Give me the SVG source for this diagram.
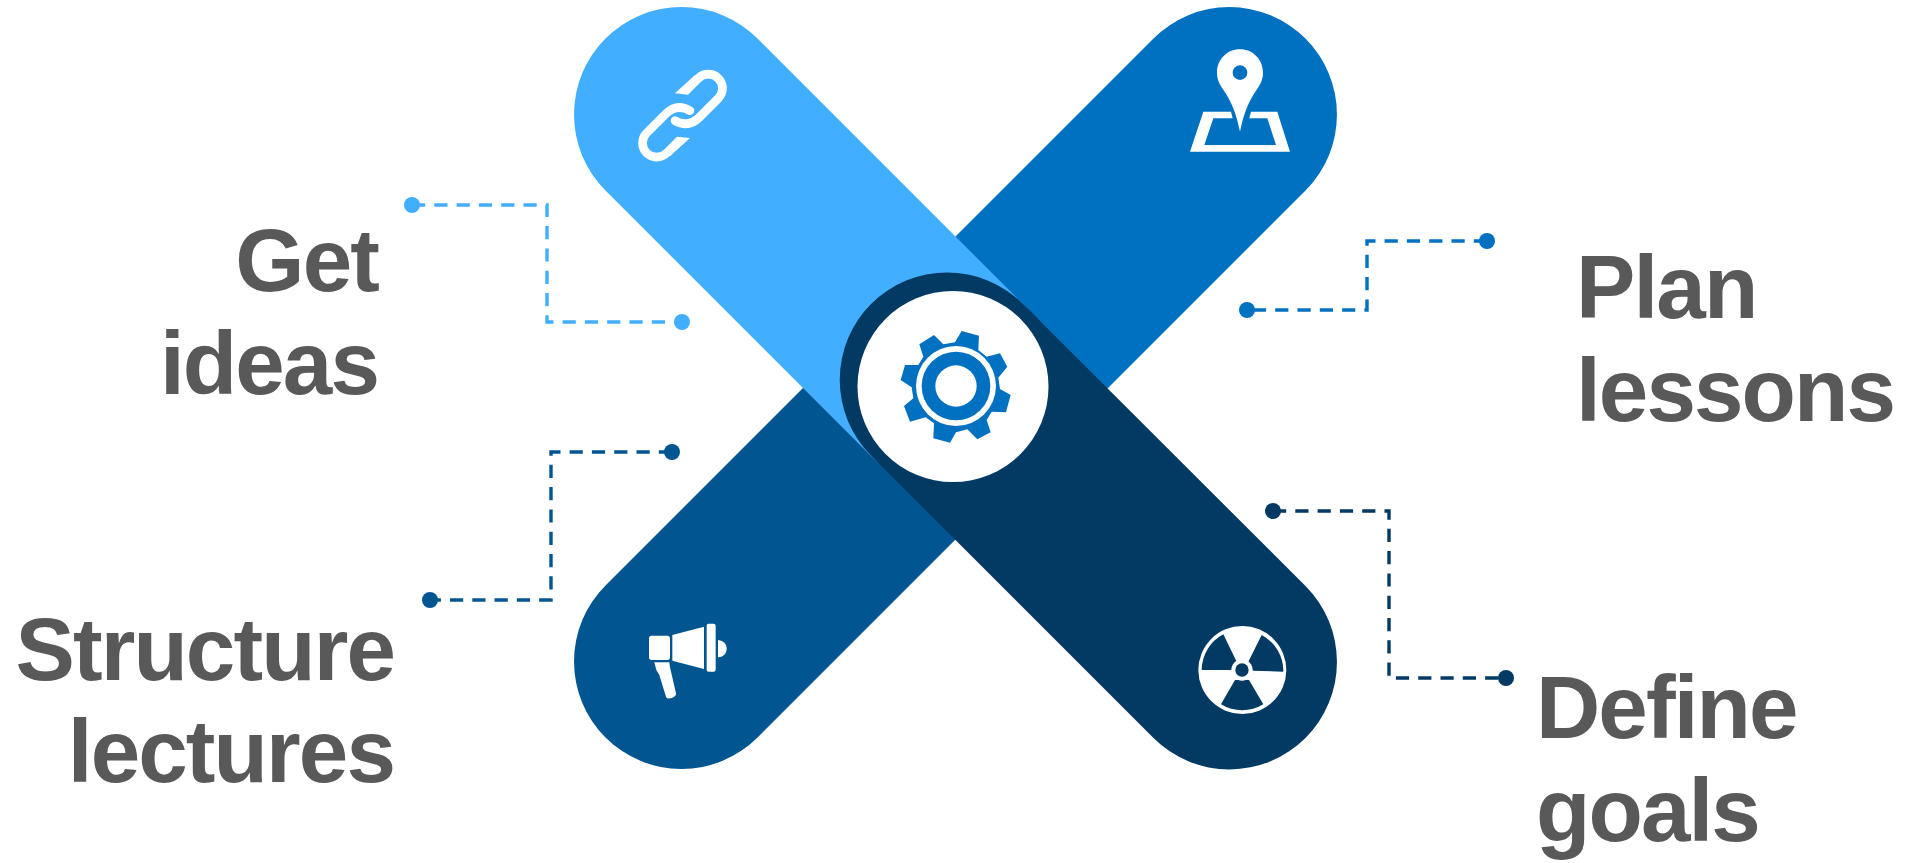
<svg xmlns="http://www.w3.org/2000/svg" width="1913" height="863" viewBox="0 0 1913 863">
<style>
.lbl{font-family:"Liberation Sans",Arial,sans-serif;font-weight:700;font-size:89px;letter-spacing:-1.9px;fill:#595959}
.r{text-anchor:end}
.ico{fill:#fff}
.c{fill:none;stroke-width:3.4;stroke-dasharray:13.2 9.1}
.light{fill:#42AEFF}.mid{fill:#0070C0}.deep{fill:#015591}.dark{fill:#023A63}
.slight{stroke:#42AEFF}.smid{stroke:#0070C0}.sdeep{stroke:#015591}.sdark{stroke:#023A63}
</style>
<rect width="1913" height="863" fill="#fff"/>
<g id="arm-plan">
<path class="mid" d="M1153.500,38.500 L879.500,312.500 A50 50 0 0 0 1031.500,464.500 L1305.500,190.500 A50 50 0 0 0 1153.500,38.500Z"/>
<g transform="translate(1170,50) scale(.3333)">
<path class="ico" d="M210,-2 C170,-2 141,30 141,68 C141,90 150,105 162,122 C185,155 200,195 210,245 C220,195 235,155 258,122 C270,105 279,90 279,68 C279,30 250,-2 210,-2Z"/>
<circle class="mid" cx="210" cy="68" r="22"/>
<path class="ico" d="M100,185 L183,185 L188,205 L130,205 L103,285 L318,285 L292,205 L238,205 L243,185 L322,185 L360,305 L60,305Z"/>
</g>
</g>
<g id="arm-structure">
<path class="deep" d="M605.500,585.500 L879.500,311.500 A50 50 0 0 1 1031.500,463.500 L757.500,737.500 A50 50 0 0 1 605.500,585.500Z"/>
<g transform="translate(630,610) scale(.3333)">
<rect class="ico" x="57" y="77" width="63" height="73" rx="8"/>
<path class="ico" d="M127,75 L222,50 L222,177 L127,152Z"/>
<rect class="ico" x="230" y="41" width="27" height="144" rx="6"/>
<path class="ico" d="M264,90 C282,92 290,103 290,116 C290,129 282,140 264,142Z"/>
<path class="ico" d="M73,157 L118,157 L120,172 L138,250 C141,262 112,272 108,260 L88,195 L79,180Z"/>
</g>
</g>
<g id="arm-ideas">
<path class="light" d="M757.500,38.500 L1023,304 A50 50 0 0 1 871,456 L605.500,190.500 A50 50 0 0 1 757.500,38.500Z"/>
<g transform="translate(620,50) scale(.3333)">
<path fill="none" stroke="#fff" stroke-width="26" stroke-linecap="round" d="M235,85 A42 42 0 0 1 295,145 L238,202 Q205,235 165,212"/>
<path fill="none" stroke="#fff" stroke-width="26" stroke-linecap="round" d="M140,309 A42 42 0 0 1 80,249 L137,192 Q170,159 210,182"/>
<path class="ico" d="M165,130 L204,134 L243,95 L225,75Z"/>
<path class="ico" d="M210,264 L171,260 L132,299 L150,319Z"/>
</g>
</g>
<g id="arm-goals">
<path class="dark" d="M1023,304 L1305.500,586 A50 50 0 0 1 1153.500,738 L871,455.500 A50 50 0 0 1 1023,304Z"/>
<g transform="translate(1185,615) scale(.3333)">
<circle class="ico" cx="172" cy="165" r="132"/>
<path class="dark" d="M115,58 L155,140 L140,165 L50,165 A122 122 0 0 1 115,58Z"/>
<path class="dark" d="M230,60 L190,140 L203,167 L295,170 A122 122 0 0 0 230,60Z"/>
<path class="dark" d="M150,195 L192,195 L235,268 A122 122 0 0 1 108,268Z"/>
<circle class="ico" cx="171" cy="165" r="32"/>
<circle class="dark" cx="171" cy="165" r="20"/>
</g>
</g>
<g id="hub">
<circle cx="953" cy="386.500" r="95.500" fill="#fff"/>
<g transform="translate(880,310) scale(.3333)">
<path class="mid" d="M245,63 L297,77 L295,120 L320,140 L360,130 L382,170 L355,203 L360,237 L392,255 L378,307 L335,305 L320,330 L332,367 L292,388 L262,358 L228,367 L210,398 L160,385 L162,340 L137,322 L90,335 L72,288 L100,265 L95,232 L62,210 L75,165 L115,165 L130,140 L118,103 L162,75 L190,103 L225,97Z"/>
<circle cx="228" cy="228" r="120" fill="#fff"/>
<circle class="mid" cx="228" cy="228" r="103"/>
<circle cx="228" cy="228" r="62" fill="#fff"/>
</g>
</g>
<g id="connectors">
<path class="c slight" d="M412,205 H547 V322 H682"/>
<circle class="light" cx="412" cy="205" r="8"/><circle class="light" cx="682" cy="322" r="8"/>
<path class="c sdeep" d="M672,452 H551 V600 H430"/>
<circle class="deep" cx="672" cy="452" r="8"/><circle class="deep" cx="430" cy="600" r="8"/>
<path class="c smid" d="M1487,241 H1367 V310 H1247"/>
<circle class="mid" cx="1487" cy="241" r="8"/><circle class="mid" cx="1247" cy="310" r="8"/>
<path class="c sdark" d="M1273,511 H1389 V678 H1506"/>
<circle class="dark" cx="1273" cy="511" r="8"/><circle class="dark" cx="1506" cy="678" r="8"/>
</g>
<g id="label-ideas"><text class="lbl r" x="378" y="291">Get</text><text class="lbl r" x="378" y="393.500">ideas</text></g>
<g id="label-structure"><text class="lbl r" x="394" y="680">Structure</text><text class="lbl r" x="394" y="782">lectures</text></g>
<g id="label-plan"><text class="lbl" x="1576" y="318">Plan</text><text class="lbl" x="1576" y="421">lessons</text></g>
<g id="label-goals"><text class="lbl" x="1536" y="738">Define</text><text class="lbl" x="1536" y="840.500">goals</text></g>
</svg>
